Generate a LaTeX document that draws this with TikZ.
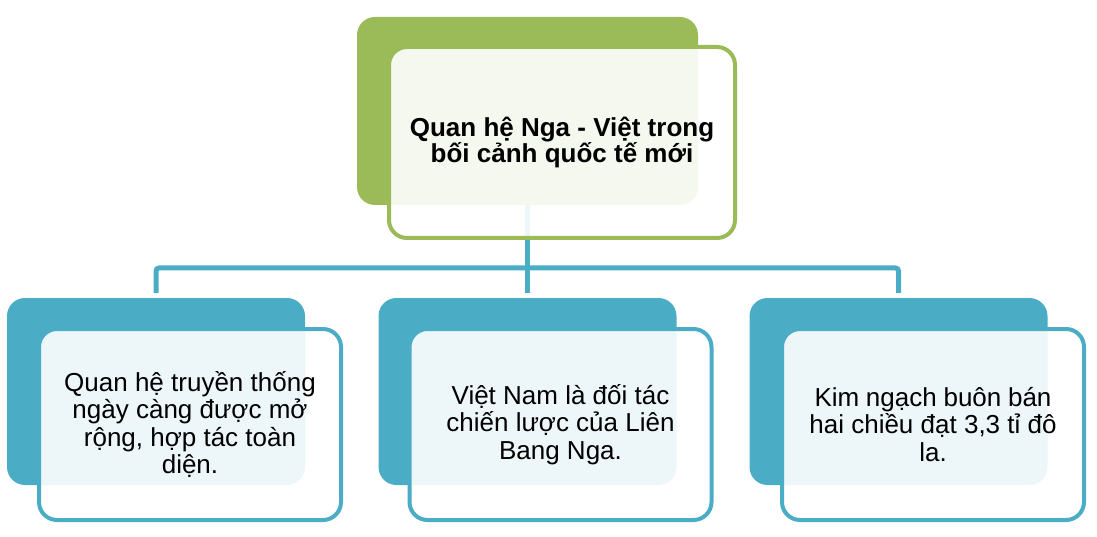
\documentclass[tikz,border=0pt]{standalone}
\usepackage{fontspec}
\setmainfont{Liberation Sans}
\definecolor{grn}{HTML}{9BBB59}
\definecolor{blu}{HTML}{4BACC6}
\begin{document}
\begin{tikzpicture}[x=1pt,y=-1pt,
  backbox/.style={rectangle, rounded corners=18pt, inner sep=0pt},
  frontbox/.style={rectangle, rounded corners=18pt, inner sep=0pt, line width=4pt,
    fill=white, fill opacity=0.9, text opacity=1, align=center,
    minimum width=302pt, minimum height=191pt,
    font=\fontsize{26}{27.3}\selectfont},
  conn/.style={draw=blu, line width=5pt, rounded corners=3pt}]
\useasboundingbox (0,0) rectangle (1097,537);
% back boxes
\node[backbox, fill=grn, minimum width=341pt, minimum height=188pt] (tb) at (527.5,111) {};
\node[backbox, fill=blu, minimum width=298pt, minimum height=187pt] (b1) at (156,391.5) {};
\node[backbox, fill=blu, minimum width=298pt, minimum height=187pt] (b2) at (527.5,391.5) {};
\node[backbox, fill=blu, minimum width=298pt, minimum height=187pt] (b3) at (898.5,391.5) {};
% connectors
\coordinate (hub) at (527.5,268);
\draw[conn] ([yshift=5pt]b1.north) |- (hub) -| ([yshift=5pt]b3.north);
\draw[conn] (tb.south) -- ([yshift=5pt]b2.north);
% front boxes
\node[frontbox, draw=grn, minimum width=346pt, font=\fontsize{26}{26}\selectfont\bfseries] (t) at (562,142.5)
  {Quan hệ Nga - Việt trong\\bối cảnh quốc tế mới};
\node[frontbox, draw=blu] (f1) at (190,424.5)
  {Quan hệ truyền thống\\ngày càng được mở\\rộng, hợp tác toàn\\diện.};
\node[frontbox, draw=blu] (f2) at (560.5,424.5)
  {Việt Nam là đối tác\\chiến lược của Liên\\Bang Nga.};
\node[frontbox, draw=blu] (f3) at (933,424.5)
  {\makebox[237pt][s]{Kim ngạch buôn bán}\\hai chiều đạt 3,3 tỉ đô\\la.};
\end{tikzpicture}
\end{document}
